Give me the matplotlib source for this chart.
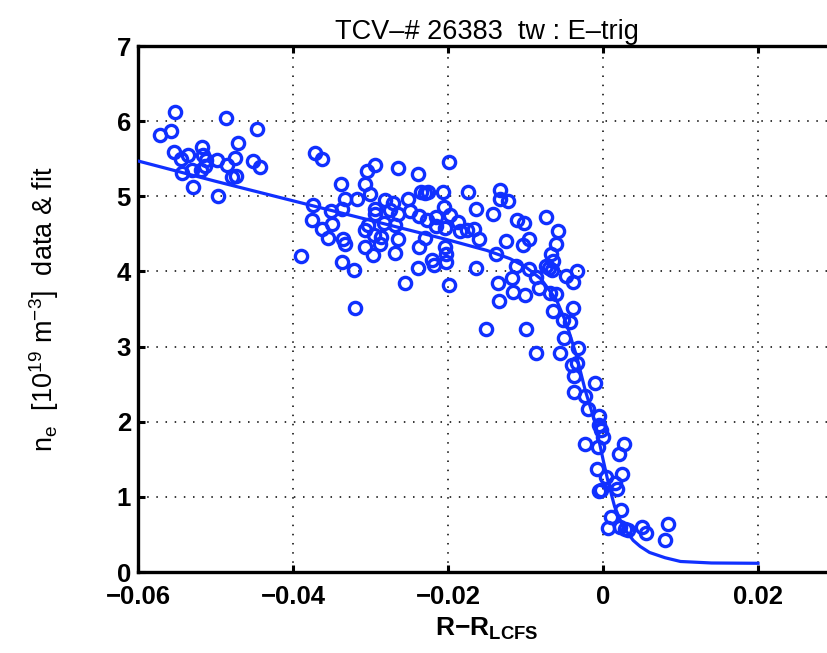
import matplotlib
matplotlib.use("Agg")
import matplotlib.pyplot as plt

plt.rcParams['font.family'] = ['Liberation Sans', 'DejaVu Sans']
plt.rcParams['mathtext.fontset'] = 'custom'
plt.rcParams['mathtext.rm'] = 'Liberation Sans'
plt.rcParams['mathtext.it'] = 'Liberation Sans:italic'
plt.rcParams['mathtext.bf'] = 'Liberation Sans:bold'

# ---- data: measured density points (R - R_LCFS [m], n_e [1e19 m^-3]) ----
data_x = [
    -0.0571, -0.0557, -0.0552, -0.0554, -0.0544, -0.0543, -0.0535, -0.0530, -0.0529,
    -0.0517, -0.0516, -0.0512, -0.0514, -0.0519, -0.0498, -0.0497, -0.0486, -0.0485,
    -0.0475, -0.0471, -0.0479, -0.0473, -0.0452, -0.0442, -0.0447,
    -0.0372, -0.0363, -0.0294, -0.0304, -0.0265, -0.0239, -0.0199, -0.0338, -0.0307,
    -0.0301, -0.0235, -0.0230, -0.0226, -0.0206, -0.0333, -0.0317, -0.0374, -0.0351,
    -0.0337, -0.0294, -0.0281, -0.0271, -0.0252, -0.0205, -0.0376, -0.0350, -0.0363,
    -0.0355, -0.0336, -0.0333, -0.0303, -0.0307, -0.0294, -0.0283, -0.0275, -0.0264,
    -0.0268, -0.0296, -0.0286, -0.0288, -0.0264, -0.0249, -0.0238, -0.0227, -0.0215,
    -0.0215, -0.0204, -0.0230, -0.0307, -0.0297, -0.0269, -0.0237, -0.0204, -0.0337,
    -0.0321, -0.0239, -0.0221, -0.0218, -0.0203, -0.0390, -0.0255, -0.0199, -0.0320,
    -0.0203,
    -0.0174, -0.0133, -0.0133, -0.0123, -0.0197, -0.0187, -0.0164, -0.0142, -0.0184,
    -0.0175, -0.0167, -0.0160, -0.0164, -0.0125, -0.0111, -0.0102, -0.0073, -0.0058,
    -0.0061, -0.0096, -0.0103, -0.0067, -0.0064, -0.0138, -0.0112, -0.0095, -0.0073,
    -0.0066, -0.0070, -0.0086, -0.0048, -0.0034, -0.0039, -0.0135, -0.0118, -0.0116,
    -0.0101, -0.0082, -0.0069, -0.0061, -0.0134, -0.0039, -0.0064, -0.0052, -0.0043,
    -0.0151, -0.0100, -0.0050,
    -0.0086, -0.0055, -0.0032, -0.0040, -0.0033, -0.0037, -0.0010, -0.0038, -0.0023,
    -0.0019, -0.0005, -0.0005, -0.0003, 0.0000, -0.0023, -0.0007, 0.0027, 0.0021,
    -0.0008, 0.0004, 0.0015, 0.0025, 0.0018, -0.0005, -0.0002, 0.0023, 0.0010,
    0.0006, 0.0022, 0.0028, 0.0032, 0.0050, 0.0055, 0.0080, 0.0084,
]
data_y = [
    5.81, 5.87, 6.12, 5.59, 5.50, 5.31, 5.55, 5.35, 5.13,
    5.65, 5.55, 5.48, 5.40, 5.35, 5.48, 5.00, 6.04, 5.42,
    5.51, 5.71, 5.26, 5.27, 5.47, 5.39, 5.89,
    5.57, 5.49, 5.41, 5.33, 5.38, 5.29, 5.46, 5.16, 5.16,
    5.03, 5.06, 5.04, 5.06, 5.06, 4.96, 4.97, 4.88, 4.80,
    4.83, 4.83, 4.95, 4.91, 4.96, 4.86, 4.68, 4.63, 4.56,
    4.44, 4.43, 4.36, 4.62, 4.55, 4.77, 4.65, 4.82, 4.77,
    4.62, 4.48, 4.46, 4.37, 4.43, 4.81, 4.74, 4.69, 4.72,
    4.60, 4.58, 4.44, 4.33, 4.22, 4.24, 4.32, 4.32, 4.13,
    4.02, 4.04, 4.15, 4.09, 4.13, 4.20, 3.84, 3.82, 3.51,
    4.23,
    5.06, 5.08, 4.96, 4.94, 4.75, 4.66, 4.83, 4.77, 4.54,
    4.55, 4.57, 4.43, 4.04, 4.41, 4.68, 4.64, 4.72, 4.54,
    4.37, 4.43, 4.35, 4.23, 4.14, 4.23, 4.07, 4.03, 4.07,
    4.02, 4.05, 3.93, 3.94, 4.00, 3.86, 3.85, 3.91, 3.73,
    3.69, 3.78, 3.71, 3.70, 3.60, 3.51, 3.48, 3.36, 3.33,
    3.24, 3.24, 3.11,
    2.91, 2.92, 2.98, 2.75, 2.78, 2.61, 2.51, 2.40, 2.34,
    2.17, 2.08, 1.96, 1.89, 1.80, 1.71, 1.67, 1.71, 1.57,
    1.37, 1.27, 1.19, 1.30, 1.11, 1.08, 1.09, 0.83, 0.73,
    0.58, 0.60, 0.57, 0.56, 0.60, 0.52, 0.42, 0.64,
]

# ---- fit curve ----
fit_x = [-0.060, -0.050, -0.040, -0.030, -0.020, -0.015, -0.012, -0.010, -0.008,
         -0.006, -0.0047, -0.0034, -0.0023, -0.0010, 0.0000, 0.0007, 0.0015,
         0.0026, 0.0039, 0.0048, 0.0060, 0.0080, 0.0100, 0.0140, 0.0200]
fit_y = [5.47, 5.20, 4.94, 4.68, 4.42, 4.28, 4.17, 4.06, 3.90,
         3.62, 3.30, 2.87, 2.42, 1.98, 1.50, 1.18, 0.87,
         0.60, 0.42, 0.34, 0.26, 0.19, 0.14, 0.12, 0.116]

x_ticks = [-0.06, -0.04, -0.02, 0, 0.02]
x_ticklabels = ['\u22120.06', '\u22120.04', '\u22120.02', '0', '0.02']
y_ticks = [0, 1, 2, 3, 4, 5, 6, 7]

title = 'TCV\u2013# 26383  tw : E\u2013trig'

blue = '#1030ff'

fig = plt.figure(figsize=(8.28, 6.53), dpi=100)
ax = fig.add_axes([0.16667, 0.12404, 0.8424, 0.80551])

ax.plot(data_x, data_y, linestyle='none', marker='o', markersize=8.8,
        markerfacecolor='none', markeredgecolor=blue, markeredgewidth=2.4,
        zorder=3)
ax.plot(fit_x, fit_y, color=blue, linewidth=2.3, zorder=3)

ax.set_xlim(-0.06, 0.03)
ax.set_ylim(0, 7)
ax.set_xticks(x_ticks)
ax.set_xticklabels(x_ticklabels)
ax.set_yticks(y_ticks)

ax.grid(True, color='black', linestyle=(0, (1, 5)), linewidth=1.1)
ax.set_axisbelow(True)

for s in ax.spines.values():
    s.set_linewidth(2.4)
ax.tick_params(direction='in', length=5, width=2.2, top=True, right=True,
               labelsize=18.5)
ax.tick_params(axis='y', pad=5)
ax.tick_params(axis='x', pad=9.5)
for lab in ax.get_xticklabels() + ax.get_yticklabels():
    lab.set_fontweight('bold')

ax.set_title(title, fontsize=19.5, pad=5)
ax.set_ylabel(r'n$_{\rm e}$  [10$^{19}$ m$^{-3}$]  data & fit', fontsize=19.5,
              labelpad=40)
ax.set_xlabel(r'R$\mathbf{-}$R$_{\mathbf{LCFS}}$', fontsize=19,
              fontweight='bold', labelpad=5)

fig.savefig('out.png', dpi=100)
